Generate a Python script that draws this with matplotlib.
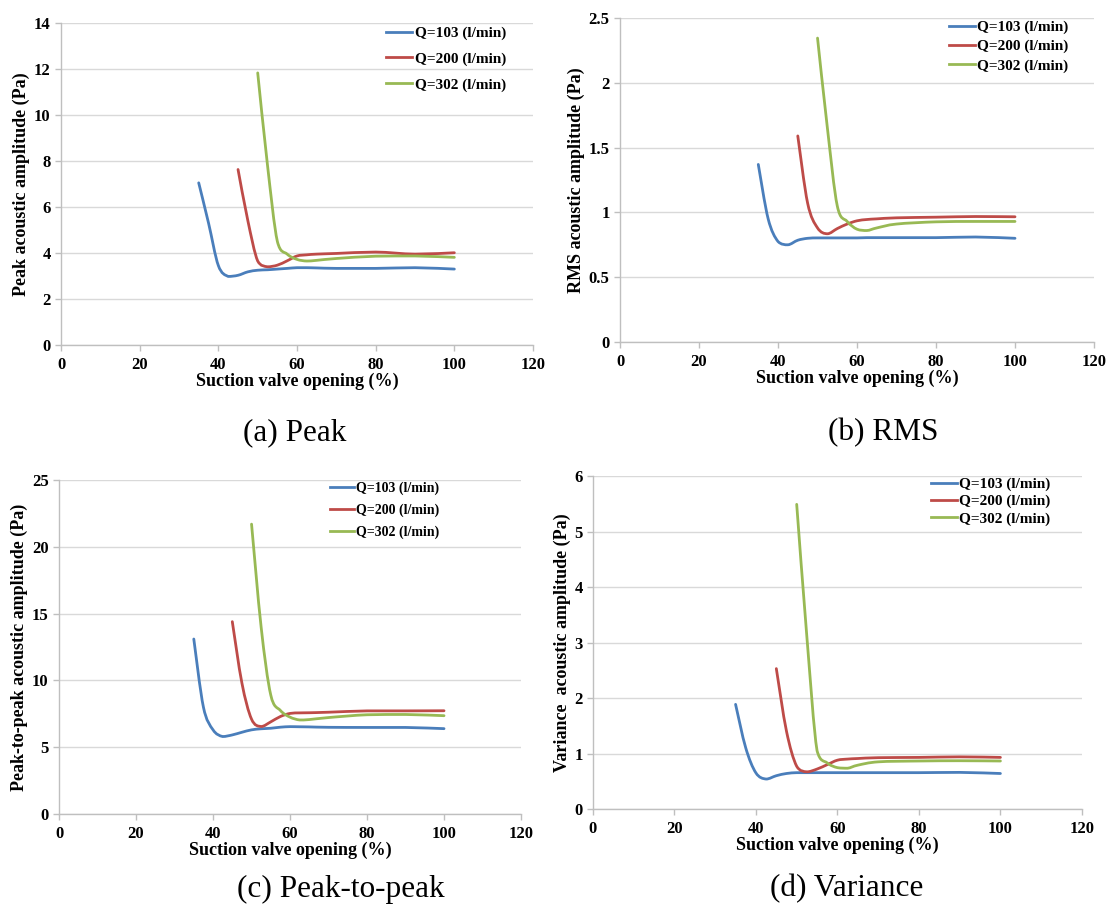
import numpy as np
import matplotlib
matplotlib.use("Agg")
import matplotlib.pyplot as plt
from matplotlib.path import Path
from matplotlib.patches import PathPatch
from matplotlib.lines import Line2D

plt.rcParams['font.family'] = ['Liberation Serif', 'DejaVu Serif']

############################################################################################################
# data (suction valve opening in %, amplitudes in Pa)
############################################################################################################

valve_opening = [35, 37.5, 40, 42.5, 45, 47.5, 50, 52.5, 55, 57.5, 60, 62.5, 65, 70, 80, 90, 100]
nan = np.nan

series_labels = ["Q=103 (l/min)", "Q=200 (l/min)", "Q=302 (l/min)"]
series_colors = ["#4a7ebb", "#be4b48", "#98b954"]

peak_q103 = [7.05, 5.3, 3.45, 2.98, 3.03, 3.18, 3.25, 3.27, 3.30, 3.33, 3.36, 3.36, 3.35, 3.33, 3.33, 3.36, 3.30]
peak_q200 = [nan, nan, nan, nan, 7.63, 5.4, 3.65, 3.40, 3.47, 3.66, 3.87, 3.92, 3.95, 3.98, 4.04, 3.95, 4.01]
peak_q302 = [nan, nan, nan, nan, nan, nan, 11.83, 7.8, 4.5, 3.95, 3.72, 3.65, 3.68, 3.76, 3.86, 3.87, 3.81]

rms_q103 = [1.37, 0.95, 0.775, 0.75, 0.785, 0.80, 0.803, 0.803, 0.803, 0.803, 0.803, 0.805, 0.805, 0.805, 0.805, 0.81, 0.80]
rms_q200 = [nan, nan, nan, nan, 1.59, 1.07, 0.88, 0.835, 0.875, 0.91, 0.935, 0.945, 0.95, 0.958, 0.963, 0.968, 0.966]
rms_q302 = [nan, nan, nan, nan, nan, nan, 2.345, 1.65, 1.05, 0.93, 0.87, 0.86, 0.88, 0.91, 0.927, 0.93, 0.93]

p2p_q103 = [13.1, 8.0, 6.3, 5.8, 5.92, 6.12, 6.3, 6.38, 6.42, 6.5, 6.54, 6.53, 6.52, 6.49, 6.48, 6.48, 6.39]
p2p_q200 = [nan, nan, nan, nan, 14.4, 9.8, 7.1, 6.55, 6.9, 7.3, 7.53, 7.57, 7.58, 7.62, 7.72, 7.72, 7.73]
p2p_q302 = [nan, nan, nan, nan, nan, nan, 21.7, 13.97, 8.9, 7.75, 7.25, 7.04, 7.07, 7.22, 7.43, 7.45, 7.36]

var_q103 = [1.886, 1.1, 0.65, 0.54, 0.6, 0.64, 0.655, 0.655, 0.655, 0.655, 0.655, 0.655, 0.655, 0.655, 0.655, 0.66, 0.64]
var_q200 = [nan, nan, nan, nan, 2.53, 1.4, 0.77, 0.67, 0.72, 0.8, 0.88, 0.9, 0.91, 0.925, 0.93, 0.94, 0.93]
var_q302 = [nan, nan, nan, nan, nan, nan, 5.49, 3.1, 1.05, 0.83, 0.745, 0.735, 0.79, 0.85, 0.865, 0.87, 0.865]

y_labels = ["Peak acoustic amplitude (Pa)", "RMS acoustic amplitude (Pa)",
            "Peak-to-peak acoustic amplitude (Pa)", "Variance  acoustic amplitude (Pa)"]
captions = ["(a) Peak", "(b) RMS", "(c) Peak-to-peak", "(d) Variance"]
y_limits = [(0, 14, 2), (0, 2.5, 0.5), (0, 25, 5), (0, 6, 1)]


############################################################################################################

def smooth_path(xs, ys):
    """ smoothed line like the spreadsheet one: cubic bezier segments through the data points,
        control points kept inside each segment so the curve does not overshoot """
    pts = [(x, y) for x, y in zip(xs, ys) if not np.isnan(y)]
    pts = np.array(pts, dtype=float)
    n = len(pts)
    verts = [tuple(pts[0])]
    codes = [Path.MOVETO]
    for i in range(n - 1):
        p0 = pts[max(i - 1, 0)]
        p1 = pts[i]
        p2 = pts[i + 1]
        p3 = pts[min(i + 2, n - 1)]
        c1 = p1 + (p2 - p0) / 6.0
        c2 = p2 - (p3 - p1) / 6.0
        lo, hi = min(p1[1], p2[1]), max(p1[1], p2[1])
        c1[1] = np.clip(c1[1], lo, hi)
        c2[1] = np.clip(c2[1], lo, hi)
        verts += [tuple(c1), tuple(c2), tuple(p2)]
        codes += [Path.CURVE4, Path.CURVE4, Path.CURVE4]
    return Path(verts, codes)


def draw_panel(fig, rect, series, y_label, y_limit, caption, caption_xy, legend_anchor, legend_spacing,
               legend_size):
    ax = fig.add_axes(rect)
    for values, color in zip(series, series_colors):
        ax.add_patch(PathPatch(smooth_path(valve_opening, values), fill=False,
                               edgecolor=color, linewidth=2.0, capstyle='round'))

    ax.set_xlim(0, 120)
    ax.set_xticks(range(0, 121, 20))
    ax.set_ylim(y_limit[0], y_limit[1])
    ax.set_yticks(np.arange(y_limit[0], y_limit[1] + y_limit[2] / 2, y_limit[2]))
    ax.yaxis.set_major_formatter(matplotlib.ticker.FormatStrFormatter("%g"))
    ax.grid(axis='y', color='#d9d9d9', linewidth=1.0)
    ax.set_axisbelow(True)
    for side in ['top', 'right']:
        ax.spines[side].set_visible(False)
    for side in ['left', 'bottom']:
        ax.spines[side].set_color('#bfbfbf')
        ax.spines[side].set_linewidth(1.0)
    ax.tick_params(axis='both', color='#bfbfbf', length=4, width=1.0, labelsize=12)
    ax.tick_params(axis='x', pad=4.5)
    ax.tick_params(axis='y', pad=3.5)
    for lbl in ax.get_xticklabels() + ax.get_yticklabels():
        lbl.set_fontweight('bold')

    ax.set_xlabel("Suction valve opening (%)", fontsize=13, fontweight='bold', labelpad=0)
    ax.set_ylabel(y_label, fontsize=13, fontweight='bold', labelpad=2.5)

    handles = [Line2D([], [], color=c, linewidth=2.0) for c in series_colors]
    ax.legend(handles, series_labels, loc='upper left', bbox_to_anchor=legend_anchor,
              frameon=False, prop={'weight': 'bold', 'size': legend_size}, handlelength=1.7,
              handletextpad=0.15, borderpad=0, borderaxespad=0, labelspacing=legend_spacing)

    fig.text(caption_xy[0] / 1110.0, 1 - caption_xy[1] / 909.0, caption, fontsize=22.5,
             ha='center', va='center')
    return ax


############################################################################################################

def make_figure():
    fig = plt.figure(figsize=(11.1, 9.09), dpi=100, facecolor='w')

    draw_panel(fig, [0.0550, 0.6205, 0.4252, 0.3542], [peak_q103, peak_q200, peak_q302],
               y_labels[0], y_limits[0], captions[0], (295, 433), (0.689, 0.99), 0.78, 11)
    draw_panel(fig, [0.5586, 0.6238, 0.4270, 0.3564], [rms_q103, rms_q200, rms_q302],
               y_labels[1], y_limits[1], captions[1], (883, 433), (0.694, 0.993), 0.36, 11)
    draw_panel(fig, [0.0532, 0.1045, 0.4162, 0.3674], [p2p_q103, p2p_q200, p2p_q302],
               y_labels[2], y_limits[2], captions[2], (341, 889), (0.587, 0.996), 0.63, 10)
    draw_panel(fig, [0.5342, 0.1100, 0.4405, 0.3663], [var_q103, var_q200, var_q302],
               y_labels[3], y_limits[3], captions[3], (847, 889), (0.691, 0.996), 0.22, 11)

    plt.savefig("out.png", dpi=100)
    plt.close(fig)


if __name__ == "__main__":
    make_figure()
